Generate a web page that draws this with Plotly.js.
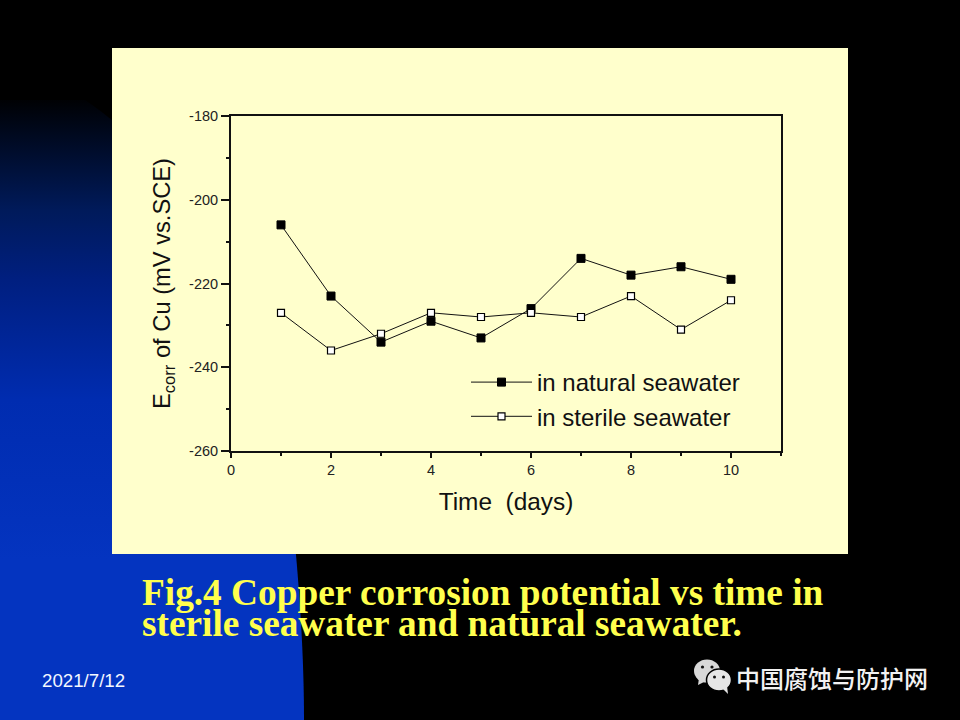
<!DOCTYPE html>
<html><head><meta charset="utf-8">
<script src="https://cdn.plot.ly/plotly-3.0.1.min.js"></script>
<style>
html,body{margin:0;padding:0;background:#000;width:960px;height:720px;overflow:hidden}
#blue{position:absolute;left:0;top:0;width:960px;height:720px;
 background:linear-gradient(180deg,#000 0,#000 95px,#001a5a 210px,#001f80 280px,#002cb0 400px,#0434c0 560px,#0434c0 720px);
 clip-path:path('M0 100 L85 100 C130 130 165 170 195 225 C250 330 285 460 296 555 C300 600 304 660 304 720 L0 720 Z')}
#panel{position:absolute;left:112px;top:48px;width:736px;height:506px;background:#ffffcc}
#chart{position:absolute;left:0;top:0;width:960px;height:720px}
#wx{position:absolute;left:692px;top:656px}
</style></head><body>
<div id="blue"></div><div id="panel"></div>
<svg id="wx" width="42" height="40" viewBox="0 0 42 40">
 <ellipse cx="15" cy="15" rx="13" ry="11.5" fill="#d8d8d8"/>
 <path d="M7 22 L6 29 L14 25Z" fill="#d8d8d8"/>
 <circle cx="10.5" cy="11" r="1.6" fill="#111"/><circle cx="20" cy="11" r="1.6" fill="#111"/>
 <ellipse cx="27" cy="24" rx="12.5" ry="11" fill="#e6e6e6" stroke="#000" stroke-width="1.5"/>
 <path d="M31 33 L36 38 L35 30Z" fill="#e6e6e6"/>
 <circle cx="22.5" cy="21" r="1.5" fill="#111"/><circle cx="31.5" cy="21" r="1.5" fill="#111"/>
</svg>
<div id="chart"></div>
<script>
const days = [1,2,3,4,5,6,7,8,9,10];
const natural = [-206,-223,-234,-229,-233,-226,-214,-218,-216,-219];
const sterile = [-227,-236,-232,-227,-228,-227,-228,-223,-231,-224];
const xTicks = [0,2,4,6,8,10];
const xTickText = ['0','2','4','6','8','10'];
const yTicks = [-180,-200,-220,-240,-260];
const yTickText = ['-180','-200','-220','-240','-260'];
const seriesNames = ['in natural seawater','in sterile seawater'];
const captionLines = ['Fig.4 Copper corrosion potential vs time in','sterile seawater and natural seawater.'];
const dateLabel = '2021/7/12';
const watermark = '中国腐蚀与防护网';

const ink = '#111';
const sans = 'Liberation Sans, Arial, sans-serif';
const L=231,R=781,T=116,B=451;
function pageNote(text,px,py,size,color,family,weight){
  return {text:text,xref:'paper',yref:'paper',x:(px-L)/(R-L),y:(B-py)/(B-T),xanchor:'left',yanchor:'middle',
    showarrow:false,font:{size:size,color:color,family:family,weight:weight||400}};
}
const traces=[
 {x:days,y:natural,name:seriesNames[0],mode:'lines+markers',
  line:{color:ink,width:1},marker:{symbol:'square',size:8,color:'#000',line:{color:'#000',width:1}}},
 {x:days,y:sterile,name:seriesNames[1],mode:'lines+markers',
  line:{color:ink,width:1},marker:{symbol:'square',size:7,color:'#fff',line:{color:'#000',width:1.2}}}
];
const layout={
 width:960,height:720,margin:{l:L,r:960-R,t:T,b:720-B,pad:0},
 paper_bgcolor:'rgba(0,0,0,0)',plot_bgcolor:'rgba(0,0,0,0)',
 font:{family:sans,color:ink},
 xaxis:{range:[0,11],tickmode:'array',tickvals:xTicks,ticktext:xTickText,ticks:'outside',ticklen:5,tickwidth:2,tickcolor:ink,
   minor:{dtick:1,ticks:'outside',ticklen:3,tickwidth:2,tickcolor:ink},
   showgrid:false,zeroline:false,showline:true,linecolor:ink,linewidth:2,mirror:true,
   tickfont:{size:14.5,color:'#222'},title:{text:'Time\u00a0\u00a0(days)',font:{size:24.4,color:ink},standoff:16}},
 yaxis:{range:[-260,-180],tickmode:'array',tickvals:yTicks,ticktext:yTickText,ticks:'outside',ticklen:8,tickwidth:2,tickcolor:ink,
   minor:{dtick:10,ticks:'outside',ticklen:3,tickwidth:2,tickcolor:ink},
   showgrid:false,zeroline:false,showline:true,linecolor:ink,linewidth:2,mirror:true,
   tickfont:{size:14.5,color:'#222'},title:{text:'E<sub>corr</sub> of Cu (mV vs.SCE)',font:{size:23.7,color:ink},standoff:12}},
 legend:{x:(466-L)/(R-L),y:(B-360)/(B-T),xanchor:'left',yanchor:'top',bgcolor:'rgba(0,0,0,0)',
   font:{size:24,color:ink},itemwidth:61,tracegroupgap:0},
 annotations:[
   pageNote(captionLines[0],140,592,37.3,'#ffff4d','Liberation Serif, serif',700),
   pageNote(captionLines[1],140,623,37.3,'#ffff4d','Liberation Serif, serif',700),
   pageNote(dateLabel,40,680,18.7,'#f4f8ff',sans),
   pageNote(watermark,734,677,24,'#f2f2f2','Noto Sans CJK SC, sans-serif',500)
 ]
};
Plotly.newPlot('chart',traces,layout,{displayModeBar:false,staticPlot:true});
</script></body></html>
